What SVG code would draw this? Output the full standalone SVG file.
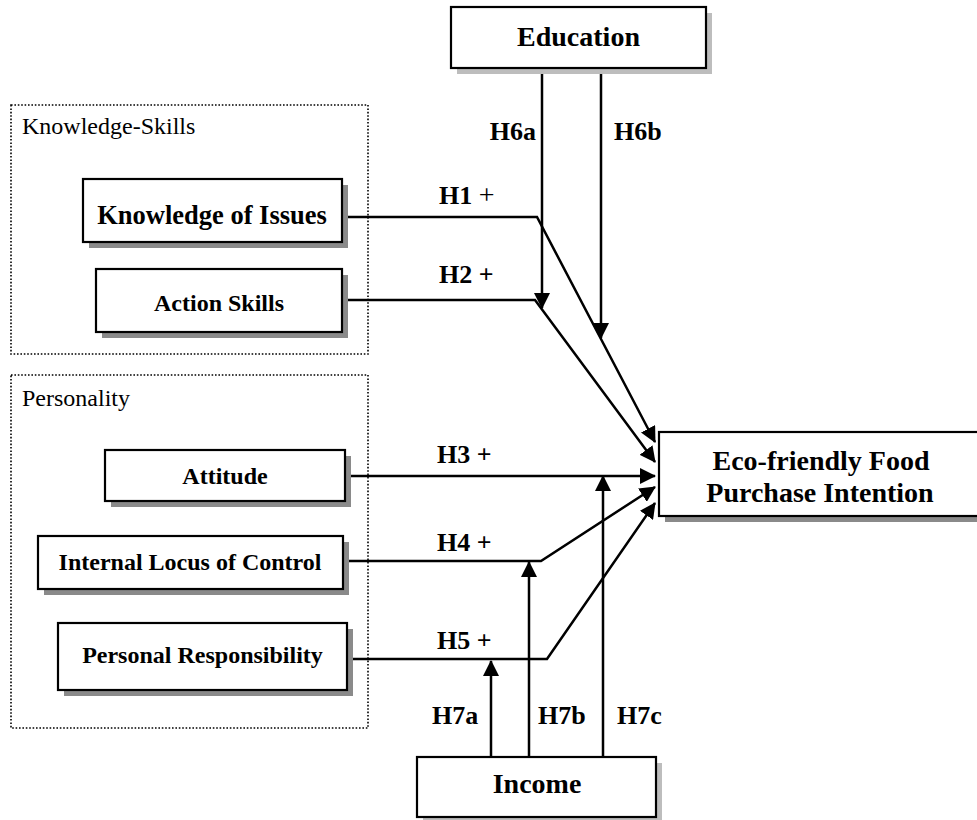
<svg xmlns="http://www.w3.org/2000/svg" width="977" height="820" viewBox="0 0 977 820">
<style>
.box{fill:#fff;stroke:#000;stroke-width:2.2}
.sh{fill:#8a8a8a}
.shl{fill:#bdbdbd}
.t{font-family:"Liberation Serif","Times New Roman",serif;font-weight:bold;fill:#000;text-anchor:middle}
.lab{font-family:"Liberation Serif","Times New Roman",serif;font-weight:bold;font-size:26px;fill:#000}
.grp{fill:none;stroke:#000;stroke-width:1.6;stroke-dasharray:1.6 1.8}
.gl{font-family:"Liberation Serif","Times New Roman",serif;font-size:24px;fill:#000}
.c{fill:none;stroke:#000;stroke-width:2.5;marker-end:url(#ah)}
</style>
<defs>
<marker id="ah" markerUnits="userSpaceOnUse" markerWidth="16" markerHeight="16" viewBox="0 0 16 16" refX="15" refY="8" orient="auto">
<path d="M0,0 L16,8 L0,16 z" fill="#000"/>
</marker>
</defs>
<rect width="977" height="820" fill="#fff"/>

<g id="group-knowledge-skills">
<rect class="grp" x="11" y="105" width="357" height="249"/>
<text class="gl" x="22" y="134">Knowledge-Skills</text>
</g>
<g id="group-personality">
<rect class="grp" x="11" y="375" width="357" height="353"/>
<text class="gl" x="22" y="406">Personality</text>
</g>

<g id="connectors">
<path class="c" d="M342,217 L537,217 L655,442"/>
<path class="c" d="M342,300 L535,300 L655,462"/>
<path class="c" d="M345,476 L655,476"/>
<path class="c" d="M343,561 L541,561 L655,487"/>
<path class="c" d="M347,659 L547,659 L655,503"/>
<path class="c" d="M542,68 L542,308"/>
<path class="c" d="M601,68 L601,338"/>
<path class="c" d="M491,757 L491,661"/>
<path class="c" d="M529,757 L529,562"/>
<path class="c" d="M603,757 L603,476"/>
<text class="lab" x="439" y="204">H1 <tspan font-weight="normal" font-size="28">+</tspan></text>
<text class="lab" x="439" y="283">H2 +</text>
<text class="lab" x="437" y="463">H3 +</text>
<text class="lab" x="437" y="551">H4 +</text>
<text class="lab" x="437" y="649">H5 +</text>
<text class="lab" x="536" y="140" text-anchor="end">H6a</text>
<text class="lab" x="614" y="140">H6b</text>
<text class="lab" x="432" y="724">H7a</text>
<text class="lab" x="538" y="724">H7b</text>
<text class="lab" x="617" y="724">H7c</text>
</g>

<g id="education">
<rect class="shl" x="457" y="13" width="255" height="61"/>
<rect class="box" x="451" y="7" width="255" height="61"/>
<text class="t" x="578.5" y="46" font-size="28">Education</text>
</g>

<g id="knowledge-of-issues">
<rect class="sh" x="89" y="185" width="259" height="63"/>
<rect class="box" x="83" y="179" width="259" height="63"/>
<text class="t" x="212" y="224" font-size="26.5">Knowledge of Issues</text>
</g>

<g id="action-skills">
<rect class="sh" x="102" y="275" width="246" height="63"/>
<rect class="box" x="96" y="269" width="246" height="63"/>
<text class="t" x="219" y="311" font-size="24">Action Skills</text>
</g>

<g id="attitude">
<rect class="sh" x="111" y="456" width="240" height="51"/>
<rect class="box" x="105" y="450" width="240" height="51"/>
<text class="t" x="225" y="484" font-size="24">Attitude</text>
</g>

<g id="internal-locus-of-control">
<rect class="sh" x="44" y="542" width="305" height="53"/>
<rect class="box" x="38" y="536" width="305" height="53"/>
<text class="t" x="190" y="570" font-size="24">Internal Locus of Control</text>
</g>

<g id="personal-responsibility">
<rect class="sh" x="64" y="629" width="289" height="67"/>
<rect class="box" x="58" y="623" width="289" height="67"/>
<text class="t" x="202.5" y="663" font-size="24">Personal Responsibility</text>
</g>

<g id="eco-friendly-food-purchase-intention">
<rect class="sh" x="665" y="438" width="326" height="84"/>
<rect class="box" x="659" y="432" width="326" height="84"/>
<text class="t" x="821" y="470" font-size="28">Eco-friendly Food</text>
<text class="t" x="820" y="502" font-size="28">Purchase Intention</text>
</g>

<g id="income">
<rect class="shl" x="423" y="763" width="239" height="60"/>
<rect class="box" x="417" y="757" width="239" height="60"/>
<text class="t" x="537" y="793" font-size="28">Income</text>
</g>
</svg>
